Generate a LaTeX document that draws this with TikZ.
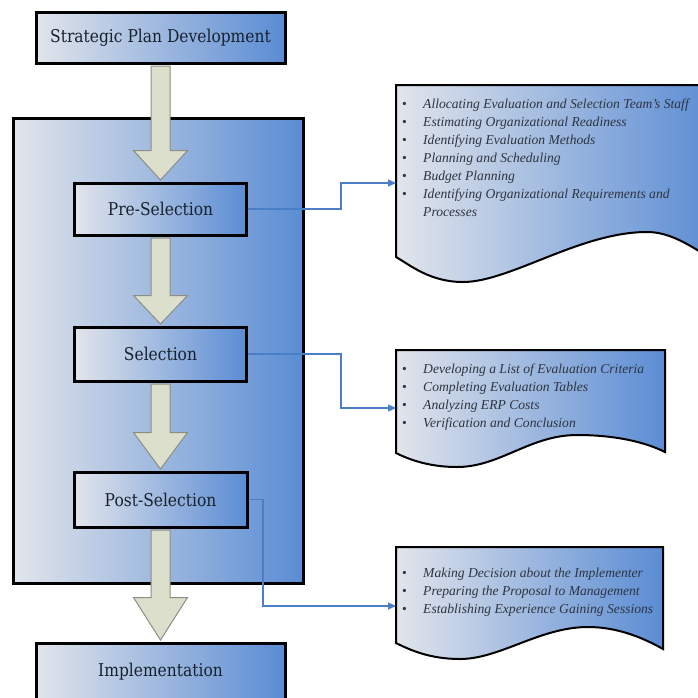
\documentclass[tikz,border=0pt]{standalone}
\usepackage{fontspec}
\setmainfont{Liberation Serif}
\newfontfamily\boxfont[FakeStretch=0.88]{DejaVu Serif}
\usetikzlibrary{calc,arrows.meta}
\definecolor{gl}{HTML}{E2E5EB}
\definecolor{gb}{HTML}{5A8CD4}
\definecolor{cblue}{HTML}{4A7FC8}
\definecolor{arrfill}{HTML}{DCDFCB}
\definecolor{arrline}{HTML}{8C8E84}
\definecolor{boxtext}{HTML}{18222F}
\definecolor{doctextc}{HTML}{2E3440}
\newcommand{\blockarr}[3]{%
 \draw[barrow] ($(#1.south)+(-9.5,1.5)$) -- ($(#2.north)+(-9.5,-#3)$) -- ($(#2.north)+(-27,-#3)$) -- ($(#2.north)+(0,-1.5)$) -- ($(#2.north)+(27,-#3)$) -- ($(#2.north)+(9.5,-#3)$) -- ($(#1.south)+(9.5,1.5)$) -- cycle;}
\newcommand{\bul}{\makebox[21pt][l]{\upshape\textbullet}}
\begin{document}
\begin{tikzpicture}[x=1pt,y=-1pt,
  container/.style={draw=black, line width=3pt, left color=gl, right color=gb, inner sep=0pt},
  stepbox/.style={draw=black, line width=3pt, left color=gl, right color=gb, inner sep=0pt,
     font=\boxfont\fontsize{17.6}{20}\selectfont, text=boxtext},
  barrow/.style={fill=arrfill, draw=arrline, line width=1pt},
  docshape/.style={draw=black, line width=2pt, left color=gl, right color=gb},
  doctext/.style={inner sep=0pt, font=\itshape\fontsize{13.6}{18}\selectfont, text=doctextc},
  conn/.style={draw=cblue, line width=1.3pt, -{Triangle[length=8pt,width=7pt]}}]
\useasboundingbox (0,0) rectangle (698,697);
\clip (0,0) rectangle (698,697);
% container
\node[container, minimum width=290pt, minimum height=465pt] (cont) at (158,350.5) {};
% step boxes
\node[stepbox, minimum width=249pt, minimum height=51pt] (spd) at (160.5,37.5) {Strategic Plan Development};
\node[stepbox, minimum width=172pt, minimum height=52pt] (pre) at (160.5,209) {Pre-Selection};
\node[stepbox, minimum width=172pt, minimum height=54pt] (sel) at (160.5,354) {Selection};
\node[stepbox, minimum width=173pt, minimum height=55pt] (post) at (160.5,499.5) {Post-Selection};
\node[stepbox, minimum width=249pt, minimum height=58pt] (impl) at (160.5,672) {Implementation};
% block arrows
\blockarr{spd}{pre}{31}
\blockarr{pre}{sel}{30}
\blockarr{sel}{post}{38}
\blockarr{post}{impl}{44}
% documents
\path[docshape] (396,85) -- (716,85) -- (716,262) .. controls (690,245) and (670,232) .. (647,232) .. controls (580,232) and (510,282) .. (463,282) .. controls (430,282) and (410,265) .. (396,257) -- cycle;
\path[docshape] (396,350) -- (665,350) -- (665,452) .. controls (645,442) and (615,435) .. (577,435) .. controls (530,435) and (500,467) .. (457,467) .. controls (430,467) and (410,460) .. (396,453) -- cycle;
\path[docshape] (396,547) -- (663,547) -- (663,649) .. controls (640,636) and (615,627) .. (588,627) .. controls (540,627) and (500,659) .. (460,659) .. controls (430,659) and (410,650) .. (396,643) -- cycle;
\coordinate (d1in) at (396,183);
\coordinate (d2in) at (396,408);
\coordinate (d3in) at (396,606);
% document texts
\node[doctext, anchor=north west] (t1) at (402,95.4) {\begin{tabular}{@{}l@{}l@{}}
\bul & Allocating Evaluation and Selection Team's Staff\\
\bul & Estimating Organizational Readiness\\
\bul & Identifying Evaluation Methods\\
\bul & Planning and Scheduling\\
\bul & Budget Planning\\
\bul & Identifying Organizational Requirements and\\
 & Processes
\end{tabular}};
\node[doctext, anchor=north west] (t2) at (402,360.4) {\begin{tabular}{@{}l@{}l@{}}
\bul & Developing a List of Evaluation Criteria\\
\bul & Completing Evaluation Tables\\
\bul & Analyzing ERP Costs\\
\bul & Verification and Conclusion
\end{tabular}};
\node[doctext, anchor=north west] (t3) at (402,564.4) {\begin{tabular}{@{}l@{}l@{}}
\bul & Making Decision about the Implementer\\
\bul & Preparing the Proposal to Management\\
\bul & Establishing Experience Gaining Sessions
\end{tabular}};
% connectors
\draw[conn] (pre.east) -| (341,183) -- (d1in);
\draw[conn] (sel.east) -| (341,408) -- (d2in);
\draw[conn] (post.east) -| (263,606) -- (d3in);
\end{tikzpicture}
\end{document}
